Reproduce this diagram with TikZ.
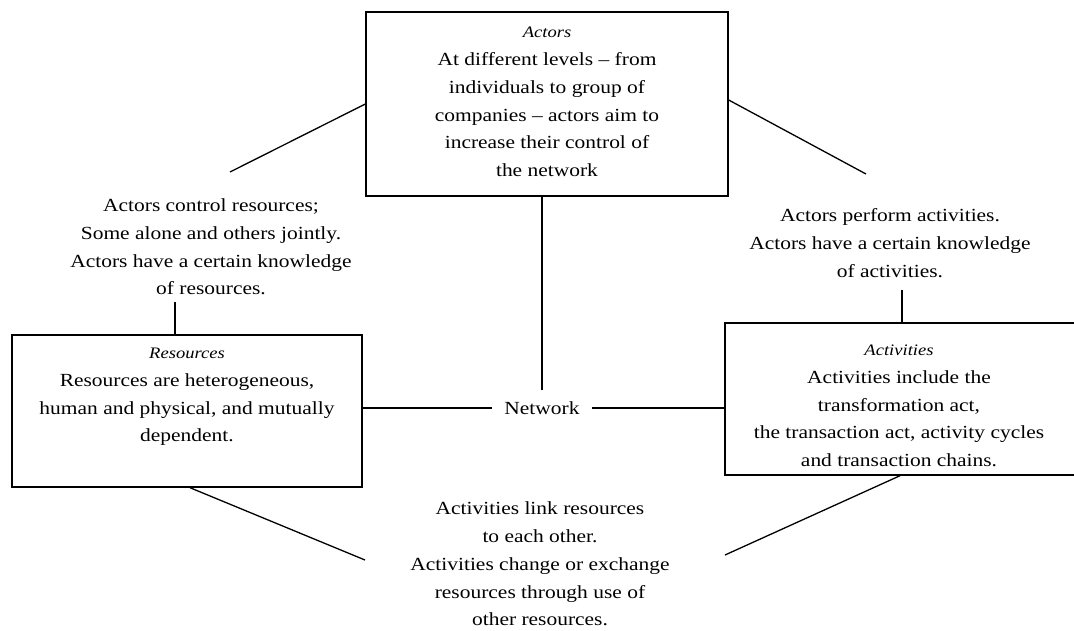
\documentclass[tikz,border=0pt]{standalone}
\usepackage{fontspec}
\setmainfont[FakeStretch=1.16]{Liberation Serif}
% small italic heading inside each box
\newcommand\boxtitle[1]{{\fontsize{16}{27.8}\selectfont\itshape #1}}
\begin{document}
\begin{tikzpicture}[x=1pt,y=-1pt,
  box/.style={draw, line width=1.4pt, rectangle, inner sep=0pt},
  txt/.style={align=center, inner sep=0pt, font=\fontsize{18.5}{27.8}\selectfont},
  link/.style={line width=1.3pt}]
\clip (0,0) rectangle (1074,630);
\fill[white] (0,0) rectangle (1074,630);

% boxes
\node[box, minimum width=362pt, minimum height=184pt] (actors) at (547,104) {};
\node[box, minimum width=350pt, minimum height=152pt] (resources) at (187,411) {};
\node[box, minimum width=360pt, minimum height=152pt] (activities) at (905,399) {};

% box texts
\node[txt] (actorstxt) at (547,102) {\boxtitle{Actors}\\At different levels -- from\\individuals to group of\\companies -- actors aim to\\increase their control of\\the network};
\node[txt] (resourcestxt) at (187,397) {\boxtitle{Resources}\\Resources are heterogeneous,\\human and physical, and mutually\\dependent.};
\node[txt] (activitiestxt) at (899,406) {\boxtitle{Activities}\\Activities include the\\transformation act,\\the transaction act, activity cycles\\and transaction chains.};

% centre and relation texts
\node[txt, inner xsep=12pt, inner ysep=11pt] (network) at (542,408) {Network};
\node[txt, inner ysep=7pt] (ar) at (211,247) {Actors control resources;\\Some alone and others jointly.\\Actors have a certain knowledge\\of resources.};
\node[txt, inner ysep=12pt] (aa) at (890,243) {Actors perform activities.\\Actors have a certain knowledge\\of activities.};
\node[txt] (rr) at (540,564) {Activities link resources\\to each other.\\Activities change or exchange\\resources through use of\\other resources.};

% free ends of the diagonal connectors
\coordinate (ar-end) at (230,172);
\coordinate (aa-end) at (866,174);
\coordinate (rr-left) at (365,560);
\coordinate (rr-right) at (725,555);

% connectors
\draw[link] (actors.west |- 0,104) -- (ar-end);
\draw[link] (actors.east |- 0,100) -- (aa-end);
\draw[link] (network.north |- actors.south) -- (network.north);
\draw[link] (resources.east |- network) -- (network.west);
\draw[link] (network.east) -- (activities.west |- network);
\draw[link] (ar.south -| 175,0) -- (resources.north -| 175,0);
\draw[link] (aa.south -| 902,0) -- (activities.north -| 902,0);
\draw[link] (resources.south -| 190,0) -- (rr-left);
\draw[link] (activities.south -| 900,0) -- (rr-right);
\end{tikzpicture}
\end{document}
